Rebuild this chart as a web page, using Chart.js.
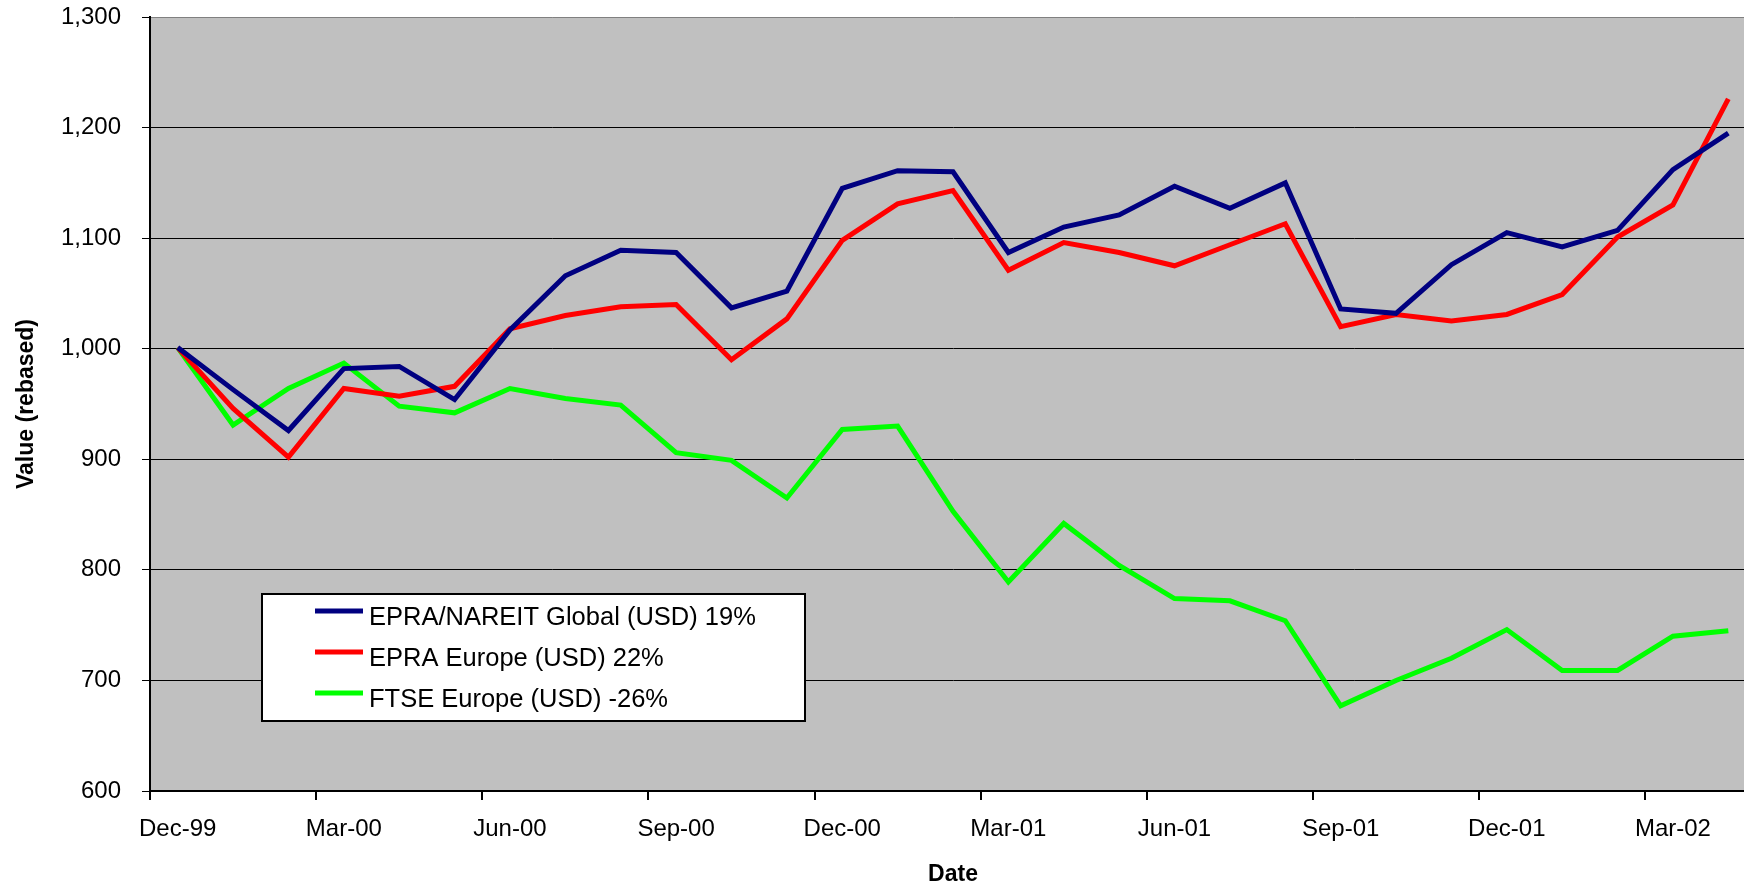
<!DOCTYPE html>
<html lang="en">

<head>
    <meta charset="UTF-8">
    <title>Value (rebased)</title>
    <script src="https://cdn.jsdelivr.net/npm/chart.js"></script>
    <style>
        html, body {
            margin: 0;
            padding: 0;
            overflow: hidden;
            background: #fff;
        }

        #chartBox {
            width: 1756px;
            height: 886px;
        }
    </style>
</head>

<body>
    <div id="chartBox">
        <canvas id="perfChart" width="1756" height="886"></canvas>
    </div>
    <script>
        const months = [
            'Dec-99', 'Jan-00', 'Feb-00', 'Mar-00', 'Apr-00', 'May-00', 'Jun-00', 'Jul-00', 'Aug-00', 'Sep-00',
            'Oct-00', 'Nov-00', 'Dec-00', 'Jan-01', 'Feb-01', 'Mar-01', 'Apr-01', 'May-01', 'Jun-01', 'Jul-01',
            'Aug-01', 'Sep-01', 'Oct-01', 'Nov-01', 'Dec-01', 'Jan-02', 'Feb-02', 'Mar-02', 'Apr-02'
        ];
        const seriesNames = ['EPRA/NAREIT Global (USD) 19%', 'EPRA Europe (USD) 22%', 'FTSE Europe (USD) -26%'];
        const globalUsd = [1001, 963, 926, 982, 984, 954, 1017, 1066, 1089, 1087, 1037, 1052, 1145, 1161, 1160,
            1087, 1110, 1121, 1147, 1127, 1150, 1036, 1032, 1076, 1105, 1092, 1107, 1162, 1195];
        const europeUsd = [1001, 946, 902, 964, 957, 966, 1018, 1030, 1038, 1040, 990, 1027, 1098, 1131, 1143,
            1071, 1096, 1087, 1075, 1094, 1113, 1020, 1031, 1025, 1031, 1049, 1101, 1130, 1226];
        const ftseEurope = [1001, 931, 964, 987, 948, 942, 964, 955, 949, 906, 899, 865, 927, 930, 853,
            789, 842, 804, 774, 772, 754, 677, 700, 720, 746, 709, 709, 740, 745];
        const yMin = 600, yMax = 1300, yStep = 100;

        const FONT = '"Liberation Sans", Arial, sans-serif';

        // grey plot area behind everything
        const plotBg = {
            id: 'plotBg',
            beforeDraw(chart) {
                const a = chart.chartArea;
                const ctx = chart.ctx;
                ctx.save();
                ctx.fillStyle = '#c0c0c0';
                ctx.fillRect(a.left, a.top, a.right - a.left, a.bottom - a.top);
                ctx.restore();
            }
        };

        // boxed legend sitting inside the plot, excel style
        const legendBox = {
            id: 'legendBox',
            afterDraw(chart) {
                const ctx = chart.ctx;
                ctx.save();
                ctx.fillStyle = '#fff';
                ctx.fillRect(262, 594, 543, 127);
                ctx.lineWidth = 2;
                ctx.strokeStyle = '#000';
                ctx.strokeRect(262, 594, 543, 127);
                ctx.font = '25.5px ' + FONT;
                ctx.textBaseline = 'alphabetic';
                chart.data.datasets.forEach((ds, i) => {
                    const y = 611 + i * 41;
                    ctx.strokeStyle = ds.borderColor;
                    ctx.lineWidth = 5;
                    ctx.beginPath();
                    ctx.moveTo(315, y);
                    ctx.lineTo(363, y);
                    ctx.stroke();
                    ctx.fillStyle = '#000';
                    ctx.fillText(ds.label, 369, y + 14);
                });
                ctx.restore();
            }
        };

        const lineStyle = { borderWidth: 5, pointRadius: 0, tension: 0, fill: false };

        new Chart(document.getElementById('perfChart'), {
            type: 'line',
            data: {
                labels: months,
                datasets: [
                    { label: seriesNames[0], data: globalUsd, borderColor: '#000080', ...lineStyle },
                    { label: seriesNames[1], data: europeUsd, borderColor: '#ff0000', ...lineStyle },
                    { label: seriesNames[2], data: ftseEurope, borderColor: '#00ff00', ...lineStyle }
                ]
            },
            options: {
                responsive: false,
                animation: false,
                devicePixelRatio: 1,
                layout: { padding: { top: 17, left: 0, right: 0, bottom: 0 } },
                plugins: {
                    legend: { display: false },
                    tooltip: { enabled: false }
                },
                scales: {
                    x: {
                        offset: true,
                        afterFit(scale) { scale.height = 95; },
                        border: { color: '#000', width: 2 },
                        grid: {
                            offset: true,
                            drawOnChartArea: false,
                            tickLength: 9,
                            lineWidth: 2,
                            color: ctx => ctx.index % 3 === 0 ? '#000' : 'rgba(0,0,0,0)',
                            tickColor: ctx => ctx.index % 3 === 0 ? '#000' : 'rgba(0,0,0,0)'
                        },
                        ticks: {
                            autoSkip: false,
                            maxRotation: 0,
                            padding: 15,
                            color: '#000',
                            font: { family: FONT, size: 24 },
                            callback: (v, i) => i % 3 === 0 ? months[i] : ''
                        },
                        title: {
                            display: true,
                            text: 'Date',
                            color: '#000',
                            padding: { top: 0, bottom: 0 },
                            font: { family: FONT, size: 23, weight: 'bold', lineHeight: 1 }
                        }
                    },
                    y: {
                        min: yMin,
                        max: yMax,
                        afterFit(scale) {
                            scale.width = 150;
                            // label overhang would push the plot down, the layout padding handles it
                            scale.paddingTop = 0;
                        },
                        border: { color: '#000', width: 2 },
                        grid: {
                            tickLength: 8,
                            lineWidth: 1,
                            color: ctx => ctx.tick && ctx.tick.value === yMax ? '#808080' : '#000',
                            tickColor: '#000'
                        },
                        ticks: {
                            stepSize: yStep,
                            padding: 21,
                            color: '#000',
                            font: { family: FONT, size: 24 },
                            callback: v => v.toLocaleString('en-US')
                        },
                        title: {
                            display: true,
                            text: 'Value (rebased)',
                            color: '#000',
                            padding: { top: 13, bottom: 0 },
                            font: { family: FONT, size: 23, weight: 'bold' }
                        }
                    }
                }
            },
            plugins: [plotBg, legendBox]
        });
    </script>
</body>

</html>
